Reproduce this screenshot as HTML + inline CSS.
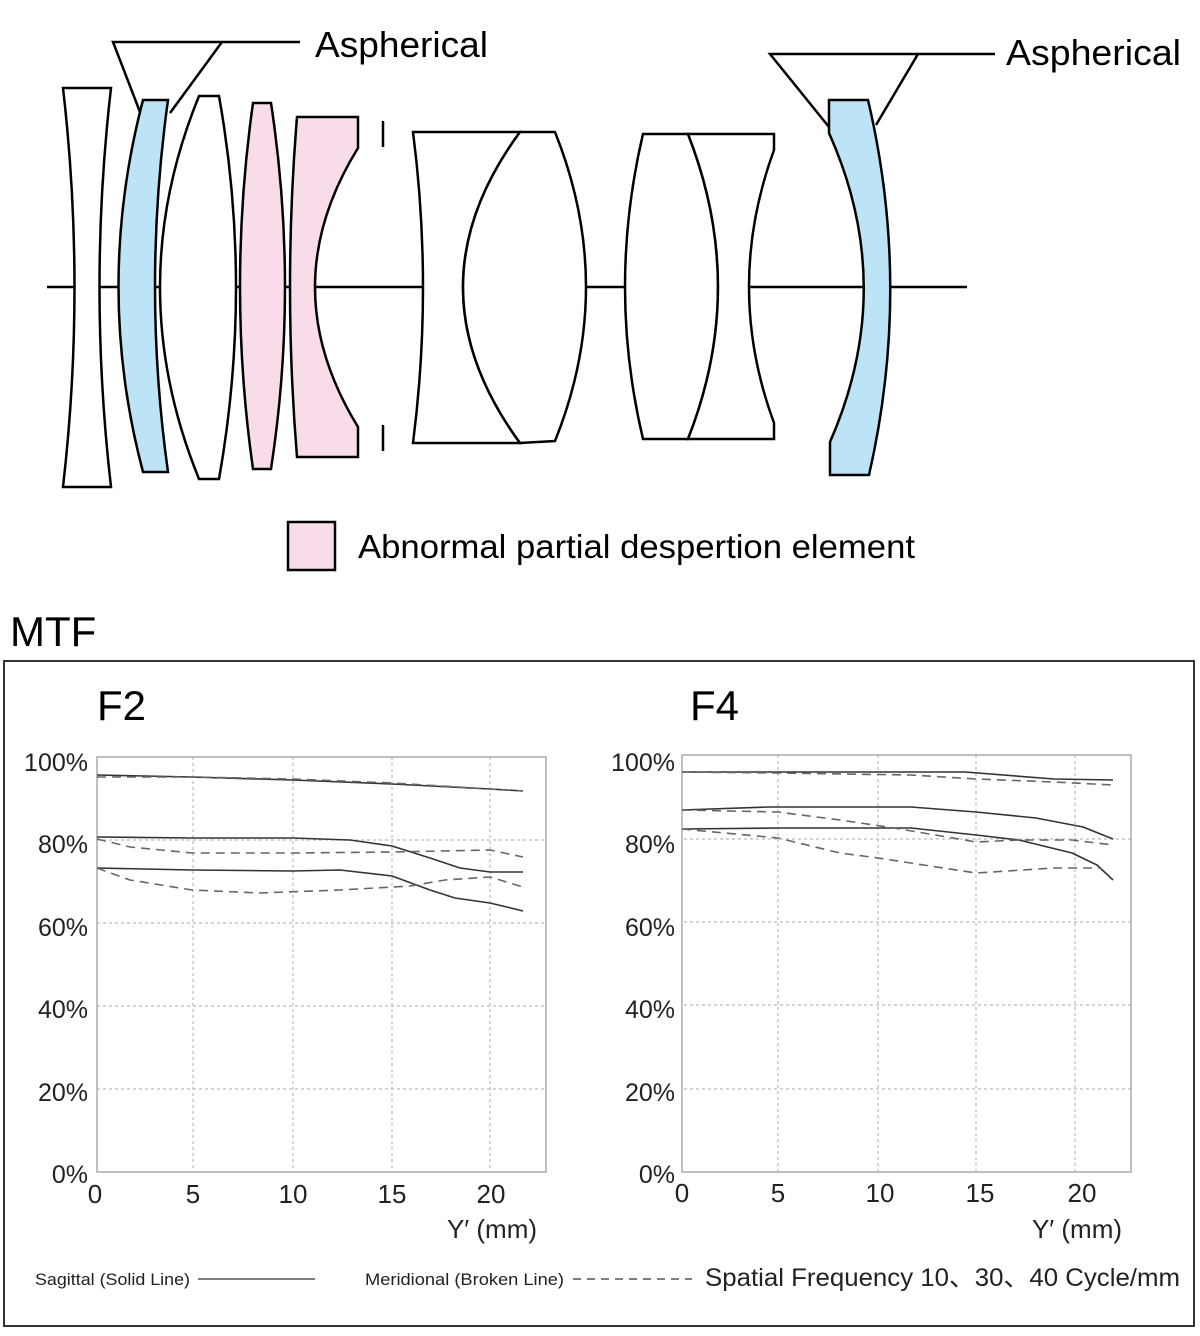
<!DOCTYPE html>
<html><head><meta charset="utf-8"><style>
html,body{margin:0;padding:0;background:#fff;}
svg{display:block;font-family:"Liberation Sans",sans-serif;}
</style></head><body>
<svg width="1200" height="1336" viewBox="0 0 1200 1336" xmlns="http://www.w3.org/2000/svg">
<g stroke="#000" stroke-width="2.5" fill="none">
<line x1="47" y1="287" x2="967" y2="287"/>
<polyline points="300,42 113,42 140,112"/>
<polyline points="222,42 170,113"/>
<polyline points="995,54 770,54 829,127"/>
<polyline points="918,54 876,125"/>
<path d="M63,88 L111,88 Q88,287 111,487 L63,487 Q86,287 63,88Z" fill="#fff"/>
<path d="M143,100 L168,100 Q142,287 168,472 L143,472 Q94,287 143,100Z" fill="#bde3f6"/>
<path d="M199,96 L219,96 Q253,287 219,479 L199,479 Q121,287 199,96Z" fill="#fff"/>
<path d="M253,103 L271,103 Q299,287 271,469 L253,469 Q227,287 253,103Z" fill="#f8dce9"/>
<path d="M297,117 L358,117 L358,148 Q272,287 358,427 L358,457 L297,457 Q283,287 297,117Z" fill="#f8dce9"/>
<line x1="383" y1="121" x2="383" y2="147"/>
<line x1="383" y1="425" x2="383" y2="451"/>
<path d="M413,132 L520,132 Q406,287 520,443 L413,443 Q433,287 413,132Z" fill="#fff"/>
<path d="M520,132 L555,132 Q617,287 555,441 L520,443 Q406,287 520,132Z" fill="#fff"/>
<path d="M643,134 L688,134 Q748,287 688,439 L643,439 Q607,287 643,134Z" fill="#fff"/>
<path d="M688,134 L774,134 L774,150 Q724,287 774,423 L774,439 L688,439 Q748,287 688,134Z" fill="#fff"/>
<path d="M829,100 L868,100 Q912,287 869,475 L830,475 L830,442 Q898,287 829,133Z" fill="#bde3f6"/>
</g>
<text x="315" y="57" font-size="36" textLength="173" lengthAdjust="spacingAndGlyphs">Aspherical</text>
<text x="1006" y="65" font-size="36" textLength="175" lengthAdjust="spacingAndGlyphs">Aspherical</text>
<rect x="288" y="522" width="47" height="48" fill="#f8dce9" stroke="#000" stroke-width="2.5"/>
<text x="358" y="558" font-size="33" textLength="557" lengthAdjust="spacingAndGlyphs">Abnormal partial despertion element</text>
<text x="10" y="646" font-size="42">MTF</text>
<rect x="4" y="661" width="1190" height="665" fill="none" stroke="#333" stroke-width="2"/>
<text x="97" y="720" font-size="42">F2</text>
<text x="690" y="720" font-size="42">F4</text>

<g stroke="#bbb" stroke-width="1.2" stroke-dasharray="3,3" fill="none">
<line x1="97" y1="840" x2="546" y2="840"/><line x1="97" y1="923" x2="546" y2="923"/>
<line x1="97" y1="1006" x2="546" y2="1006"/><line x1="97" y1="1089" x2="546" y2="1089"/>
<line x1="193" y1="757" x2="193" y2="1172"/><line x1="293" y1="757" x2="293" y2="1172"/>
<line x1="392" y1="757" x2="392" y2="1172"/><line x1="490" y1="757" x2="490" y2="1172"/>
<line x1="684" y1="839" x2="1131" y2="839"/><line x1="684" y1="922" x2="1131" y2="922"/>
<line x1="684" y1="1005" x2="1131" y2="1005"/><line x1="684" y1="1089" x2="1131" y2="1089"/>
<line x1="778" y1="755" x2="778" y2="1172"/><line x1="878" y1="755" x2="878" y2="1172"/>
<line x1="976" y1="755" x2="976" y2="1172"/><line x1="1075" y1="755" x2="1075" y2="1172"/>
</g>
<rect x="97" y="757" width="449" height="415" fill="none" stroke="#aaa" stroke-width="1.5"/>
<rect x="682" y="755" width="449" height="417" fill="none" stroke="#aaa" stroke-width="1.5"/>
<g fill="none" stroke-width="1.6" stroke-linejoin="round">
<g stroke="#333">
<polyline points="97,775 192,777 292,780 392,784 490,789 523,791"/>
<polyline points="97,837 192,838 292,838 350,840 392,846 430,858 460,868 490,872 523,872"/>
<polyline points="97,868 192,870 292,871 340,870 392,876 430,890 455,898 490,903 523,911"/>
<polyline points="682,772 965,772 1054,779 1113,780"/>
<polyline points="682,810 769,807 911,807 976,812 1036,818 1083,827 1113,839"/>
<polyline points="682,829 778,828 911,828 976,835 1019,840 1072,853 1097,865 1113,880"/>
</g>
<g stroke="#666" stroke-dasharray="9,6">
<polyline points="97,777 192,777 292,779 392,783 490,789 523,791"/>
<polyline points="97,839 130,847 192,853 292,853 392,852 490,850 523,857"/>
<polyline points="97,868 130,880 192,890 260,893 340,890 410,886 445,880 490,877 523,887"/>
<polyline points="682,772 778,773 911,775 976,779 1054,782 1113,785"/>
<polyline points="682,810 778,812 840,820 894,828 947,837 976,842 1019,840 1072,840 1113,845"/>
<polyline points="682,829 778,838 840,853 878,858 976,873 1054,868 1101,868"/>
</g>
</g>
<g font-size="25" fill="#222" text-anchor="end">
<text x="88" y="771">100%</text><text x="88" y="853">80%</text><text x="88" y="936">60%</text>
<text x="88" y="1018">40%</text><text x="88" y="1101">20%</text><text x="88" y="1183">0%</text>
<text x="675" y="771">100%</text><text x="675" y="853">80%</text><text x="675" y="936">60%</text>
<text x="675" y="1018">40%</text><text x="675" y="1101">20%</text><text x="675" y="1183">0%</text>
</g>
<g font-size="26" fill="#222" text-anchor="middle">
<text x="95" y="1203">0</text><text x="193" y="1203">5</text><text x="293" y="1203">10</text><text x="392" y="1203">15</text><text x="491" y="1203">20</text>
<text x="682" y="1202">0</text><text x="778" y="1202">5</text><text x="880" y="1202">10</text><text x="980" y="1202">15</text><text x="1082" y="1202">20</text>
<text x="492" y="1238">Y′ (mm)</text>
<text x="1077" y="1238">Y′ (mm)</text>
</g>
<text x="35" y="1285" font-size="17" fill="#222" textLength="155" lengthAdjust="spacingAndGlyphs">Sagittal (Solid Line)</text>
<line x1="198" y1="1279" x2="315" y2="1279" stroke="#333" stroke-width="1.3"/>
<text x="365" y="1285" font-size="17" fill="#222" textLength="199" lengthAdjust="spacingAndGlyphs">Meridional (Broken Line)</text>
<line x1="573" y1="1279" x2="692" y2="1279" stroke="#333" stroke-width="1.3" stroke-dasharray="8,6"/>
<text x="705" y="1286" font-size="25" fill="#222" font-family="'Liberation Sans','Noto Sans CJK JP',sans-serif" textLength="475" lengthAdjust="spacingAndGlyphs">Spatial Frequency 10、30、40  Cycle/mm</text>
</svg>
</body></html>
